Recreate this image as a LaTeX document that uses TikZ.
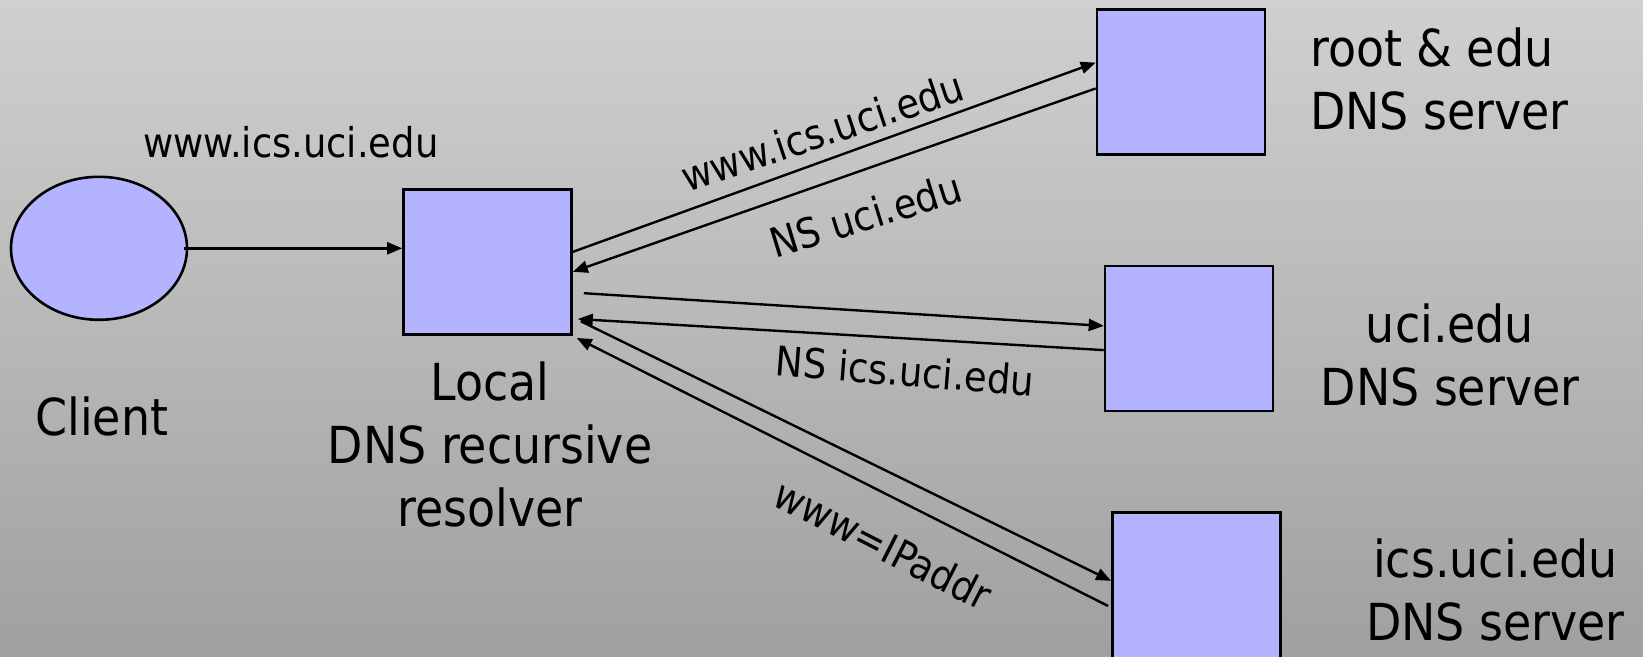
\documentclass[tikz,border=0pt]{standalone}
\usepackage{fontspec}
\setmainfont{DejaVu Sans Condensed}
\usetikzlibrary{calc, arrows.meta, shapes.geometric}
\definecolor{mbox}{RGB}{179,179,255}
\definecolor{bgtop}{RGB}{208,208,208}
\definecolor{bgbottom}{RGB}{160,160,160}
\newcommand\bigtext{\fontsize{51}{63}\selectfont}
\newcommand\smalltext{\fontsize{41}{50}\selectfont}

\begin{document}
\begin{tikzpicture}[x=1pt, y=-1pt,
    server/.style={draw, line width=2.6pt, fill=mbox, inner sep=0pt,
                   minimum width=168pt, minimum height=145pt},
    host/.style={server, ellipse, minimum width=176pt, minimum height=143pt},
    srvtext/.style={font=\bigtext, align=center, inner sep=0pt},
    msg/.style={font=\smalltext, inner sep=0pt, anchor=base},
    arrow/.style={-{Triangle[length=15pt, width=12pt]}, line width=2.4pt},
]
\shade[top color=bgtop, bottom color=bgbottom] (0,0) rectangle (1643,656);
\useasboundingbox (0,0) rectangle (1643,656);
\clip (0,0) rectangle (1643,656);

\node[host] (client) at (99,248.3) {};
\node[server] (local) at (487.5,262.2) {};
\node[server] (root) at (1181,81.8) {};
\node[server] (uci) at (1189,338.3) {};
\node[server, minimum height=150pt] (ics) at (1196.4,587.7) {};

\node[srvtext, anchor=base] (clienttext) at (101.7,435) {Client};
\node[srvtext] (localtext) at (490,444) {Local\\DNS recursive\\resolver};
\node[srvtext, align=left, anchor=west] (roottext) at (1310,79) {root \& edu\\DNS server};
\node[srvtext] (ucitext) at (1450,355) {uci.edu\\DNS server};
\node[srvtext] (icstext) at (1495.5,590) {ics.uci.edu\\DNS server};

\node[msg] (query0) at (290.8,157) {www.ics.uci.edu};
\node[msg, rotate=18.5] (query1) at (827,146) {www.ics.uci.edu};
\node[msg, rotate=17] (reply1) at (870,230) {NS uci.edu};
\node[msg, rotate=-4.5] (reply2) at (903.8,386) {NS ics.uci.edu};
\node[msg, rotate=-27] (reply3) at (876,558) {www=IPaddr};

\draw[arrow] ([xshift=-4pt]client.east) -- (client.east -| local.west);
\draw[arrow] ($(local.north east)!0.43!(local.south east)$) -- ($(root.north west)!0.37!(root.south west)$);
\draw[arrow] ($(root.north west)!0.545!(root.south west)$) -- ($(local.north east)!0.565!(local.south east)$);
\draw[arrow] ($(local.north east)!0.71!(local.south east)+(11,0)$) -- ($(uci.north west)!0.416!(uci.south west)$);
\draw[arrow] ($(uci.north west)!0.58!(uci.south west)$) -- ($(local.north east)!0.885!(local.south east)+(5,0)$);
\draw[arrow] ($(local.north east)!0.9!(local.south east)+(8,0)$) -- ($(ics.north west)!0.455!(ics.south west)$);
\draw[arrow] ($(ics.north west)!0.62!(ics.south west)+(-3,0)$) -- ($(local.south east)+(4,2)$);

\end{tikzpicture}
\end{document}
